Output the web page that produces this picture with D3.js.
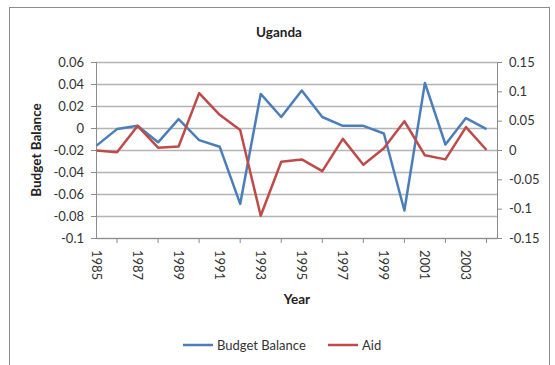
<!DOCTYPE html>
<html>
<head>
<meta charset="utf-8">
<script src="https://cdn.jsdelivr.net/npm/d3@7"></script>
<style>
  body { margin: 0; background: #fff; }
  text { font-family: Lato, "Open Sans", sans-serif; fill: #222; }
  .axis-title { font-weight: bold; font-size: 13.5px; }
  .tick-label { font-size: 13px; fill: #333; }
</style>
</head>
<body>
<div id="chart-container"></div>
<script>
// data
var years = [1985, 1986, 1987, 1988, 1989, 1990, 1991, 1992, 1993, 1994,
             1995, 1996, 1997, 1998, 1999, 2000, 2001, 2002, 2003, 2004];
var budgetBalance = [-0.016, -0.001, 0.002, -0.013, 0.008, -0.011, -0.017, -0.069, 0.031, 0.010,
                     0.034, 0.010, 0.002, 0.002, -0.005, -0.075, 0.041, -0.015, 0.009, -0.001];
var aid = [-0.001, -0.004, 0.041, 0.004, 0.006, 0.097, 0.060, 0.034, -0.112, -0.020,
           -0.016, -0.036, 0.019, -0.025, 0.003, 0.049, -0.009, -0.016, 0.039, 0.000];
var leftTicks = [-0.1, -0.08, -0.06, -0.04, -0.02, 0, 0.02, 0.04, 0.06];
var rightTicks = [-0.15, -0.1, -0.05, 0, 0.05, 0.1, 0.15];
var yearLabels = [1985, 1987, 1989, 1991, 1993, 1995, 1997, 1999, 2001, 2003];
var yearTicks = [1986, 1988, 1990, 1992, 1994, 1996, 1998, 2000, 2002, 2004];

var W = 555, H = 365;
var plot = { left: 96, right: 497, top: 62, bottom: 238 };

var svg = d3.select("#chart-container").append("svg")
    .attr("width", W)
    .attr("height", H);

// outer frame
svg.append("rect")
    .attr("x", 9.5).attr("y", 7.5)
    .attr("width", 540).attr("height", 362)
    .attr("fill", "none")
    .attr("stroke", "#8c8c8c");

var x = d3.scaleLinear().domain([1985, 2004]).range([plot.left + 0.5, 486.5]);
var yL = d3.scaleLinear().domain([-0.1, 0.06]).range([plot.bottom, plot.top]);
var yR = d3.scaleLinear().domain([-0.15, 0.15]).range([plot.bottom, plot.top]);

// plain hyphen minus like the original
var fmt = d => d === 0 ? "0" : String(+d.toFixed(2));

// gridlines from left axis
svg.append("g").selectAll("line")
    .data(leftTicks)
    .enter().append("line")
    .attr("x1", plot.left).attr("x2", plot.right)
    .attr("y1", d => Math.round(yL(d)) + 0.5)
    .attr("y2", d => Math.round(yL(d)) + 0.5)
    .attr("stroke", "#b3b3b3")
    .attr("stroke-width", 1.3);

// left axis
svg.append("g")
    .attr("transform", `translate(${plot.left},0)`)
    .call(d3.axisLeft(yL).tickValues(leftTicks).tickSize(5).tickPadding(7).tickFormat(fmt))
    .call(g => g.selectAll("text").attr("class", "tick-label").attr("font-family", null).attr("font-size", null))
    .call(g => g.selectAll("line, path").attr("stroke", "#8c8c8c"));

// right axis
svg.append("g")
    .attr("transform", `translate(${plot.right},0)`)
    .call(d3.axisRight(yR).tickValues(rightTicks).tickSize(5).tickPadding(7).tickFormat(fmt))
    .call(g => g.selectAll("text").attr("class", "tick-label").attr("font-family", null).attr("font-size", null))
    .call(g => g.selectAll("line, path").attr("stroke", "#8c8c8c"));

// bottom axis line + tick marks
var bottom = svg.append("g").attr("transform", `translate(0,${plot.bottom})`);
bottom.append("line")
    .attr("x1", plot.left).attr("x2", plot.right)
    .attr("y1", 0.5).attr("y2", 0.5)
    .attr("stroke", "#8c8c8c");
bottom.selectAll(".xt")
    .data(yearTicks)
    .enter().append("line")
    .attr("class", "xt")
    .attr("x1", d => x(d)).attr("x2", d => x(d))
    .attr("y1", 0).attr("y2", 5)
    .attr("stroke", "#8c8c8c");
bottom.selectAll(".xl")
    .data(yearLabels)
    .enter().append("text")
    .attr("class", "tick-label")
    .attr("transform", d => `translate(${x(d) - 4.5},12) rotate(90)`)
    .attr("text-anchor", "start")
    .text(d => d);

// lines
var lineL = d3.line().x((d, i) => x(years[i])).y(d => yL(d));
var lineR = d3.line().x((d, i) => x(years[i])).y(d => yR(d));

svg.append("path")
    .datum(budgetBalance)
    .attr("d", lineL)
    .attr("fill", "none")
    .attr("stroke", "#4a7ebb")
    .attr("stroke-width", 2.5)
    .attr("stroke-linejoin", "round");

svg.append("path")
    .datum(aid)
    .attr("d", lineR)
    .attr("fill", "none")
    .attr("stroke", "#be4b48")
    .attr("stroke-width", 2.5)
    .attr("stroke-linejoin", "round");

// titles
svg.append("text")
    .attr("class", "axis-title")
    .attr("x", 279).attr("y", 37)
    .attr("text-anchor", "middle")
    .text("Uganda");

svg.append("text")
    .attr("class", "axis-title")
    .attr("x", 297).attr("y", 304)
    .attr("text-anchor", "middle")
    .text("Year");

svg.append("text")
    .attr("class", "axis-title")
    .attr("transform", "translate(41,150) rotate(-90)")
    .attr("text-anchor", "middle")
    .text("Budget Balance");

// legend
var legend = [
    { name: "Budget Balance", color: "#4a7ebb", x: 183 },
    { name: "Aid", color: "#be4b48", x: 328 }
];
var lg = svg.append("g").selectAll("g")
    .data(legend)
    .enter().append("g")
    .attr("transform", d => `translate(${d.x},345)`);
lg.append("line")
    .attr("x1", 0).attr("x2", 30)
    .attr("stroke", d => d.color)
    .attr("stroke-width", 2.5);
lg.append("text")
    .attr("class", "tick-label")
    .attr("x", 34).attr("y", 4.5)
    .text(d => d.name);
</script>
</body>
</html>
